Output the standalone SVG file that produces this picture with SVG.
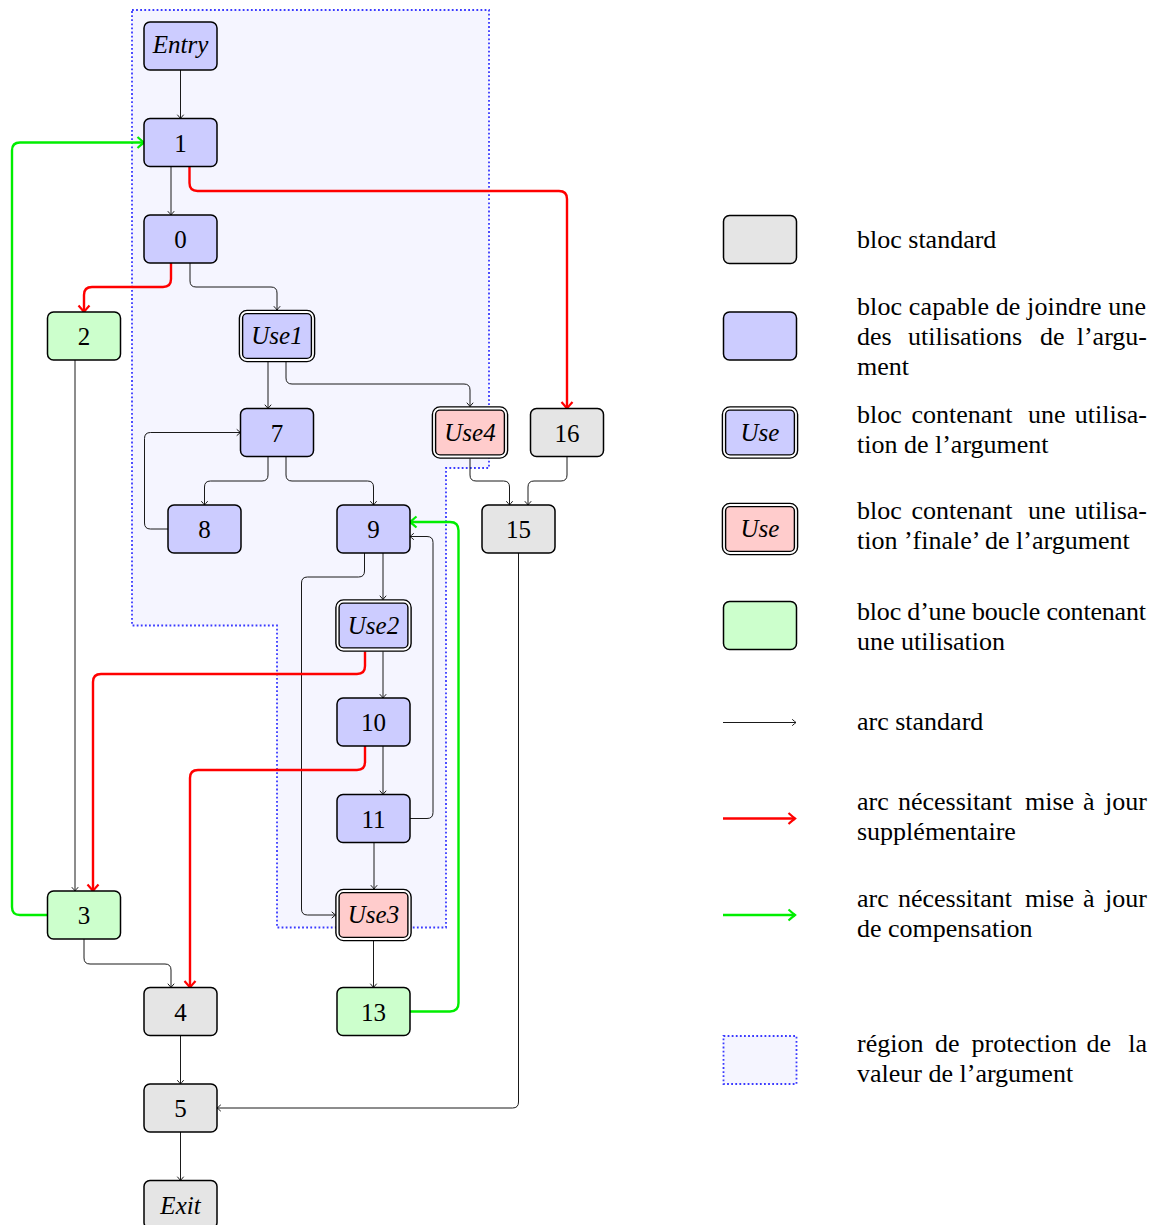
<svg xmlns="http://www.w3.org/2000/svg" width="1162" height="1225" viewBox="0 0 1162 1225">
<style>
text{font-family:"Liberation Serif","DejaVu Serif",serif;fill:#000}
.lbl{font-size:25px;text-anchor:middle}
.it{font-style:italic}
.leg{font-size:26px}
.nd{stroke:#000;stroke-width:1.5}
.gray{fill:#e5e5e5}.blue{fill:#ccccff}.red{fill:#ffcccc}.green{fill:#ccffcc}
.dblo{stroke:#000;stroke-width:4.6}
.dbli{fill:none;stroke:#fff;stroke-width:1.8}
.e{fill:none;stroke:#1a1a1a;stroke-width:1;marker-end:url(#ah)}
.er{fill:none;stroke:#ff0000;stroke-width:2.4;marker-end:url(#ahr)}
.eg{fill:none;stroke:#00ee00;stroke-width:2.4;marker-end:url(#ahg)}
.region{fill:#f5f5ff;stroke:#3a3aff;stroke-width:1.8;stroke-dasharray:1.8 2.3}
</style>
<defs>
<marker id="ah" markerUnits="userSpaceOnUse" markerWidth="1" markerHeight="1" refX="0" refY="0" orient="auto" overflow="visible"><path d="M-3.8,-3.2 Q-1,-0.7 0,0 Q-1,0.7 -3.8,3.2" fill="none" stroke="#1a1a1a" stroke-width="1"/></marker>
<marker id="ahr" markerUnits="userSpaceOnUse" markerWidth="1" markerHeight="1" refX="0" refY="0" orient="auto" overflow="visible"><path d="M-6.5,-5.5 Q-2,-1.5 0,0 Q-2,1.5 -6.5,5.5" fill="none" stroke="#ff0000" stroke-width="2.2"/></marker>
<marker id="ahg" markerUnits="userSpaceOnUse" markerWidth="1" markerHeight="1" refX="0" refY="0" orient="auto" overflow="visible"><path d="M-6.5,-5.5 Q-2,-1.5 0,0 Q-2,1.5 -6.5,5.5" fill="none" stroke="#00ee00" stroke-width="2.2"/></marker>
</defs>
<rect width="1162" height="1225" fill="#fff"/>
<g id="region">
<path class="region" d="M132,10 H489 V468 H446 V927.5 H277 V625.5 H132 Z"/>
</g>
<g id="connectors">
<path class="e" d="M180.5,70 V118.5"/>
<path class="e" d="M171,166.5 V215"/>
<path class="er" d="M189.5,166.5 V183 Q189.5,191 197.5,191 H559 Q567,191 567,199 V408.5"/>
<path class="er" d="M171,263 V279 Q171,287 163,287 H92 Q84,287 84,295 V312"/>
<path class="e" d="M190,263 V281 Q190,287 196,287 H271 Q277,287 277,293 V310"/>
<path class="e" d="M268,362 V408.5"/>
<path class="e" d="M286,362 V378 Q286,384 292,384 H464 Q470,384 470,390 V406.5"/>
<path class="e" d="M268,456.5 V475 Q268,481 262,481 H210.5 Q204.5,481 204.5,487 V505"/>
<path class="e" d="M286,456.5 V475 Q286,481 292,481 H367.5 Q373.5,481 373.5,487 V505"/>
<path class="e" d="M168,529 H150.5 Q144.5,529 144.5,523 V438.5 Q144.5,432.5 150.5,432.5 H240.5"/>
<path class="e" d="M470,458.5 V475 Q470,481 476,481 H503.5 Q509.5,481 509.5,487 V505"/>
<path class="e" d="M567,456.5 V475 Q567,481 561,481 H534 Q528,481 528,487 V505"/>
<path class="e" d="M518.5,553 V1102 Q518.5,1108 512.5,1108 H217"/>
<path class="e" d="M383,553 V599.5"/>
<path class="e" d="M364.5,553 V571 Q364.5,577 358.5,577 H307.5 Q301.5,577 301.5,583 V909 Q301.5,915 307.5,915 H335.5"/>
<path class="e" d="M410,818.5 H427 Q433,818.5 433,812.5 V542.5 Q433,536.5 427,536.5 H410"/>
<path class="eg" d="M410,1011.5 H450 Q458.5,1011.5 458.5,1003 V530.5 Q458.5,522 450,522 H410"/>
<path class="e" d="M383,651.5 V698"/>
<path class="er" d="M365,651.5 V666 Q365,674 357,674 H101 Q93,674 93,682 V891"/>
<path class="e" d="M383,746 V794.5"/>
<path class="er" d="M365,746 V762 Q365,770 357,770 H198 Q190,770 190,778 V987.5"/>
<path class="e" d="M374,842.5 V889"/>
<path class="e" d="M75,360 V891"/>
<path class="eg" d="M47.5,915 H20 Q12,915 12,907 V150.5 Q12,142.5 20,142.5 H144"/>
<path class="e" d="M84,939 V958 Q84,964 90,964 H165 Q171,964 171,970 V987.5"/>
<path class="e" d="M373.5,941 V987.5"/>
<path class="e" d="M180.5,1035.5 V1084"/>
<path class="e" d="M180.5,1132 V1180.5"/>
</g>
<g id="n-entry"><rect class="nd blue" x="144" y="22" width="73" height="48" rx="6"/><text class="lbl it" x="180.5" y="52.5">Entry</text></g>
<g id="n-1"><rect class="nd blue" x="144" y="118.5" width="73" height="48" rx="6"/><text class="lbl" x="180.5" y="151.5">1</text></g>
<g id="n-0"><rect class="nd blue" x="144" y="215" width="73" height="48" rx="6"/><text class="lbl" x="180.5" y="248">0</text></g>
<g id="n-2"><rect class="nd green" x="47.5" y="312" width="73" height="48" rx="6"/><text class="lbl" x="84" y="345">2</text></g>
<g id="n-use1"><rect class="dblo blue" x="241" y="312" width="72" height="48" rx="6"/><rect class="dbli" x="241" y="312" width="72" height="48" rx="6"/><text class="lbl it" x="277" y="344">Use1</text></g>
<g id="n-7"><rect class="nd blue" x="240.5" y="408.5" width="73" height="48" rx="6"/><text class="lbl" x="277" y="441.5">7</text></g>
<g id="n-use4"><rect class="dblo red" x="434" y="408.5" width="72" height="48" rx="6"/><rect class="dbli" x="434" y="408.5" width="72" height="48" rx="6"/><text class="lbl it" x="470" y="440.5">Use4</text></g>
<g id="n-16"><rect class="nd gray" x="530.5" y="408.5" width="73" height="48" rx="6"/><text class="lbl" x="567" y="441.5">16</text></g>
<g id="n-8"><rect class="nd blue" x="168" y="505" width="73" height="48" rx="6"/><text class="lbl" x="204.5" y="538">8</text></g>
<g id="n-9"><rect class="nd blue" x="337" y="505" width="73" height="48" rx="6"/><text class="lbl" x="373.5" y="538">9</text></g>
<g id="n-15"><rect class="nd gray" x="482" y="505" width="73" height="48" rx="6"/><text class="lbl" x="518.5" y="538">15</text></g>
<g id="n-use2"><rect class="dblo blue" x="337.5" y="601.5" width="72" height="48" rx="6"/><rect class="dbli" x="337.5" y="601.5" width="72" height="48" rx="6"/><text class="lbl it" x="373.5" y="633.5">Use2</text></g>
<g id="n-10"><rect class="nd blue" x="337" y="698" width="73" height="48" rx="6"/><text class="lbl" x="373.5" y="731">10</text></g>
<g id="n-11"><rect class="nd blue" x="337" y="794.5" width="73" height="48" rx="6"/><text class="lbl" x="373.5" y="827.5">11</text></g>
<g id="n-use3"><rect class="dblo red" x="337.5" y="891" width="72" height="48" rx="6"/><rect class="dbli" x="337.5" y="891" width="72" height="48" rx="6"/><text class="lbl it" x="373.5" y="923">Use3</text></g>
<g id="n-3"><rect class="nd green" x="47.5" y="891" width="73" height="48" rx="6"/><text class="lbl" x="84" y="924">3</text></g>
<g id="n-4"><rect class="nd gray" x="144" y="987.5" width="73" height="48" rx="6"/><text class="lbl" x="180.5" y="1020.5">4</text></g>
<g id="n-13"><rect class="nd green" x="337" y="987.5" width="73" height="48" rx="6"/><text class="lbl" x="373.5" y="1020.5">13</text></g>
<g id="n-5"><rect class="nd gray" x="144" y="1084" width="73" height="48" rx="6"/><text class="lbl" x="180.5" y="1117">5</text></g>
<g id="n-exit"><rect class="nd gray" x="144" y="1180.5" width="73" height="48" rx="6"/><text class="lbl it" x="180.5" y="1213.5">Exit</text></g>
<g id="legend">
<rect class="nd gray" x="723.5" y="215.5" width="73" height="48" rx="6"/>
<text class="leg" x="857" y="248">bloc standard</text>
<rect class="nd blue" x="723.5" y="312" width="73" height="48" rx="6"/>
<text class="leg" x="857" y="315" textLength="289" lengthAdjust="spacing">bloc capable de joindre une</text>
<text class="leg" y="345"><tspan x="857">des</tspan><tspan x="908">utilisations</tspan><tspan x="1040">de</tspan><tspan x="1147" text-anchor="end">l’argu-</tspan></text>
<text class="leg" x="857" y="375">ment</text>
<rect class="dblo blue" x="724" y="408.5" width="72" height="48" rx="6"/><rect class="dbli" x="724" y="408.5" width="72" height="48" rx="6"/>
<text class="lbl it" x="760" y="440.5">Use</text>
<text class="leg" y="422.5"><tspan x="857">bloc</tspan><tspan x="911.5">contenant</tspan><tspan x="1028">une</tspan><tspan x="1147" text-anchor="end">utilisa-</tspan></text>
<text class="leg" x="857" y="452.5">tion de l’argument</text>
<rect class="dblo red" x="724" y="505" width="72" height="48" rx="6"/><rect class="dbli" x="724" y="505" width="72" height="48" rx="6"/>
<text class="lbl it" x="760" y="537">Use</text>
<text class="leg" y="519"><tspan x="857">bloc</tspan><tspan x="911.5">contenant</tspan><tspan x="1028">une</tspan><tspan x="1147" text-anchor="end">utilisa-</tspan></text>
<text class="leg" x="857" y="549">tion ’finale’ de l’argument</text>
<rect class="nd green" x="723.5" y="601.5" width="73" height="48" rx="6"/>
<text class="leg" x="857" y="620" textLength="289" lengthAdjust="spacing">bloc d’une boucle contenant</text>
<text class="leg" x="857" y="650">une utilisation</text>
<path class="e" d="M723,722.5 H796"/>
<text class="leg" x="857" y="730">arc standard</text>
<path class="er" d="M723,818.5 H795"/>
<text class="leg" y="810"><tspan x="857">arc</tspan><tspan x="898">nécessitant</tspan><tspan x="1025">mise</tspan><tspan x="1083">à</tspan><tspan x="1147" text-anchor="end">jour</tspan></text>
<text class="leg" x="857" y="840">supplémentaire</text>
<path class="eg" d="M723,915 H795"/>
<text class="leg" y="906.5"><tspan x="857">arc</tspan><tspan x="898">nécessitant</tspan><tspan x="1025">mise</tspan><tspan x="1083">à</tspan><tspan x="1147" text-anchor="end">jour</tspan></text>
<text class="leg" x="857" y="936.5">de compensation</text>
<rect class="region" x="723.5" y="1036" width="73" height="48"/>
<text class="leg" y="1051.5"><tspan x="857">région</tspan><tspan x="935">de</tspan><tspan x="971.5">protection</tspan><tspan x="1086.5">de</tspan><tspan x="1147" text-anchor="end">la</tspan></text>
<text class="leg" x="857" y="1081.5">valeur de l’argument</text>
</g>
</svg>
